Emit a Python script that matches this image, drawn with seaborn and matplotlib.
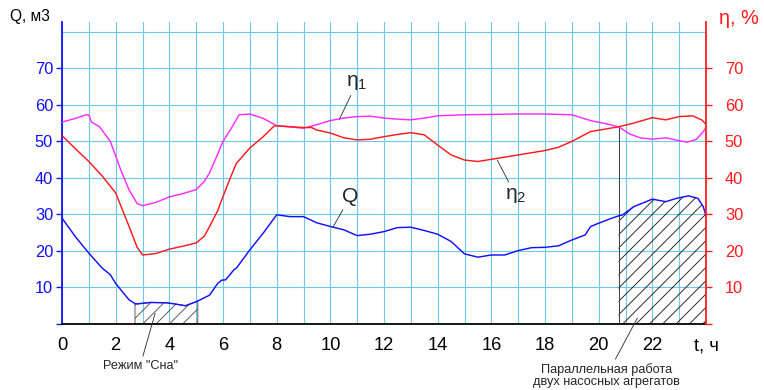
"""
Суточный график подачи Q и КПД насосов η1, η2
"""
import numpy as np
import matplotlib.pyplot as plt
from matplotlib.ticker import MultipleLocator
import seaborn as sns

# подача Q, м3
q_t = [0, 0.5, 1, 1.5, 1.8, 2, 2.5, 2.72, 2.8, 3.3, 3.9, 4.2, 4.6, 5, 5.06, 5.5, 5.8, 5.95, 6.1,
       6.4, 6.5, 7, 7.5, 8, 8.5, 9, 9.5, 10, 10.5, 11, 11.5, 12, 12.5, 13, 13.5, 14, 14.5,
       15, 15.5, 16, 16.5, 17, 17.5, 18, 18.5, 19, 19.5, 19.7, 20, 20.5, 20.74, 20.9, 21.3,
       22, 22.5, 22.9, 23.35, 23.7, 23.9, 24]
q_vals = [29, 23.9, 19.4, 15.3, 13.5, 11.1, 6.6, 5.6, 5.5, 5.9, 5.8, 5.5, 5.0, 6.1, 6.3, 7.9, 11.1, 12, 12.1,
          14.8, 15.3, 20.3, 24.9, 29.9, 29.4, 29.4, 27.7, 26.7, 25.8, 24.2, 24.6, 25.3, 26.4, 26.5, 25.6, 24.6, 22.6,
          19.2, 18.3, 18.9, 18.9, 20.1, 20.9, 21.0, 21.4, 23, 24.4, 26.7, 27.6, 29, 29.6, 29.9, 32.1,
          34.2, 33.5, 34.4, 35.1, 34.4, 32.1, 29.6]

# КПД η1, %
eta1_t = [0, 0.5, 0.9, 1.0, 1.1, 1.4, 1.8, 2.2, 2.5, 2.8, 3.0, 3.5, 4.0, 4.5, 5.0, 5.3, 5.5, 5.8, 6.0,
          6.3, 6.5, 6.6, 7.0, 7.5, 8.0, 8.5, 9.0, 9.5, 10, 10.5, 11, 11.5, 12, 12.5, 13, 13.5, 14,
          15, 16, 17, 18, 19, 19.7, 20.3, 20.74, 21.17, 21.54, 22, 22.5, 23, 23.3, 23.65, 23.9, 24]
eta1_vals = [55.3, 56.3, 57.3, 57.2, 55.3, 54, 50, 42, 36.7, 33, 32.4, 33.3, 34.8, 35.7, 36.8, 39, 41.4, 46.5, 50,
             53.5, 56.0, 57.3, 57.5, 56.3, 54.3, 54, 53.6, 54.6, 55.7, 56.4, 56.8, 56.9, 56.4, 56.1, 55.9, 56.4, 57,
             57.3, 57.4, 57.5, 57.5, 57.3, 55.7, 54.8, 54, 52, 51, 50.6, 51, 50.2, 49.8, 50.6, 52.7, 53.8]

# КПД η2, %
eta2_t = [0, 0.5, 1, 1.5, 2, 2.5, 2.8, 3.0, 3.5, 4.0, 4.5, 5.0, 5.3, 5.5, 5.8, 6.0, 6.3, 6.5, 7.0,
          7.5, 7.9, 8.0, 8.5, 9.0, 9.3, 9.5, 10, 10.5, 11, 11.5, 12, 12.5, 13, 13.5, 14, 14.5, 15,
          15.5, 16, 16.5, 17, 17.5, 18, 18.5, 19, 19.7, 20.74, 21.3, 22, 22.5, 23, 23.5, 23.84, 24]
eta2_vals = [51.6, 48, 44.5, 40.5, 35.9, 26.7, 21, 18.9, 19.3, 20.5, 21.3, 22.2, 24, 26.7, 31, 34.9, 40.5, 44, 48.2,
             51.3, 54.2, 54.3, 54.0, 53.8, 53.8, 53.1, 52.3, 51, 50.4, 50.6, 51.3, 51.9, 52.4, 51.8, 49, 46.3, 44.9,
             44.5, 45.1, 45.7, 46.3, 46.9, 47.5, 48.4, 50, 52.7, 54, 55, 56.5, 55.9, 56.8, 57, 55.9, 54.7]

# режимы работы, ч
sleep_start, sleep_end = 2.72, 5.06
parallel_start, parallel_end = 20.74, 24

x_ticks = list(range(0, 25, 2))
x_labels = [str(v) for v in x_ticks[:-1]] + ['t, ч']
y_ticks = list(range(0, 71, 10))
y_labels = [''] + [str(v) for v in y_ticks[1:]]

BLUE = '#1010ff'
RED = '#ff1a1a'
MAGENTA = '#ff2bff'
GRID = '#6cc8ec'

sns.set_style('white')
plt.rcParams['font.family'] = ['Liberation Sans', 'DejaVu Sans']
plt.rcParams['mathtext.default'] = 'regular'
plt.rcParams['hatch.linewidth'] = 0.8

DPI = 80
fig = plt.figure(figsize=(764 / DPI, 390 / DPI), dpi=DPI)
ax = fig.add_axes([62 / 764, 66 / 390, 644 / 764, 302 / 390])
ax2 = ax.twinx()

# штриховка режимов
q_t_arr = np.array(q_t)
q_arr = np.array(q_vals)
ax.fill_between(q_t_arr, 0, q_arr, where=(q_t_arr >= sleep_start) & (q_t_arr <= sleep_end),
                facecolor='none', edgecolor='0.3', hatch='//', linewidth=0.8)
ax.fill_between(q_t_arr, 0, q_arr, where=(q_t_arr >= parallel_start) & (q_t_arr <= parallel_end),
                facecolor='none', edgecolor='0.1', hatch='//', linewidth=0)
ax.vlines(parallel_start, 0, np.interp(parallel_start, eta2_t, eta2_vals), color='0.25', lw=0.9)

sns.lineplot(x=q_t, y=q_vals, ax=ax, color=BLUE, lw=1.3, estimator=None)
sns.lineplot(x=eta1_t, y=eta1_vals, ax=ax2, color=MAGENTA, lw=1.3, estimator=None)
sns.lineplot(x=eta2_t, y=eta2_vals, ax=ax2, color=RED, lw=1.3, estimator=None)

for a in (ax, ax2):
    a.set_xlim(0, 24)
    a.set_ylim(0, 82.7)
    a.set_xlabel('')
    a.set_ylabel('')

# сетка
ax.set_xticks(x_ticks)
ax.set_xticklabels(x_labels)
ax.xaxis.set_minor_locator(MultipleLocator(1))
ax.set_yticks(y_ticks)
ax.set_yticklabels(y_labels)
ax.set_yticks([80], minor=True)
ax.grid(which='both', color=GRID, lw=1)
ax.set_axisbelow(True)

ax.tick_params(axis='x', which='major', length=5, width=1.2, color='k', labelcolor='k',
               labelsize=16.5, pad=7, direction='out')
ax.tick_params(which='minor', length=0)
ax.tick_params(axis='y', which='major', length=5, width=1.2, color=BLUE, labelcolor=BLUE,
               labelsize=14.7, pad=3, direction='out')

ax2.set_yticks(y_ticks)
ax2.set_yticklabels(y_labels)
ax2.tick_params(axis='y', which='major', length=5, width=1.2, color=RED, labelcolor=RED,
                labelsize=14.7, pad=12, direction='out')

for name in ('top', 'right'):
    ax.spines[name].set_visible(False)
ax.spines['left'].set_color(BLUE)
ax.spines['left'].set_linewidth(1.6)
ax.spines['bottom'].set_color('k')
ax.spines['bottom'].set_linewidth(1.6)
for name in ('top', 'left', 'bottom'):
    ax2.spines[name].set_visible(False)
ax2.spines['right'].set_color(RED)
ax2.spines['right'].set_linewidth(1.6)

# подписи осей
fig.text(30 / 764, 1 - 17 / 390, 'Q, м3', fontsize=14, color='k', ha='center', va='center')
fig.text(739 / 764, 1 - 19 / 390, 'η, %', fontsize=18, color=RED, ha='center', va='center')

# подписи кривых
leader = dict(arrowstyle='-', lw=0.8, color='0.2', shrinkA=1, shrinkB=0)
ax2.annotate('η$_1$', xy=(10.34, 56.1), xytext=(11.0, 66.2), fontsize=19,
             ha='center', va='center', arrowprops=leader)
ax2.annotate('η$_2$', xy=(16.22, 44.9), xytext=(16.9, 35.3), fontsize=19,
             ha='center', va='center', arrowprops=leader)
ax.annotate('Q', xy=(10.11, 26.7), xytext=(10.75, 34.9), fontsize=19,
            ha='center', va='center', arrowprops=leader)

ax.annotate('Режим "Сна"', xy=(3.47, 2.9), xytext=(2.91, -11.5), fontsize=11.5,
            ha='center', va='center', arrowprops=leader, annotation_clip=False)
ax.annotate('Параллельная работа\nдвух насосных агрегатов', xy=(21.44, 1.6), xytext=(20.3, -14.1),
            fontsize=11.5, ha='center', va='center', linespacing=1.05,
            arrowprops=leader, annotation_clip=False)

plt.savefig('out.png', dpi=DPI)
